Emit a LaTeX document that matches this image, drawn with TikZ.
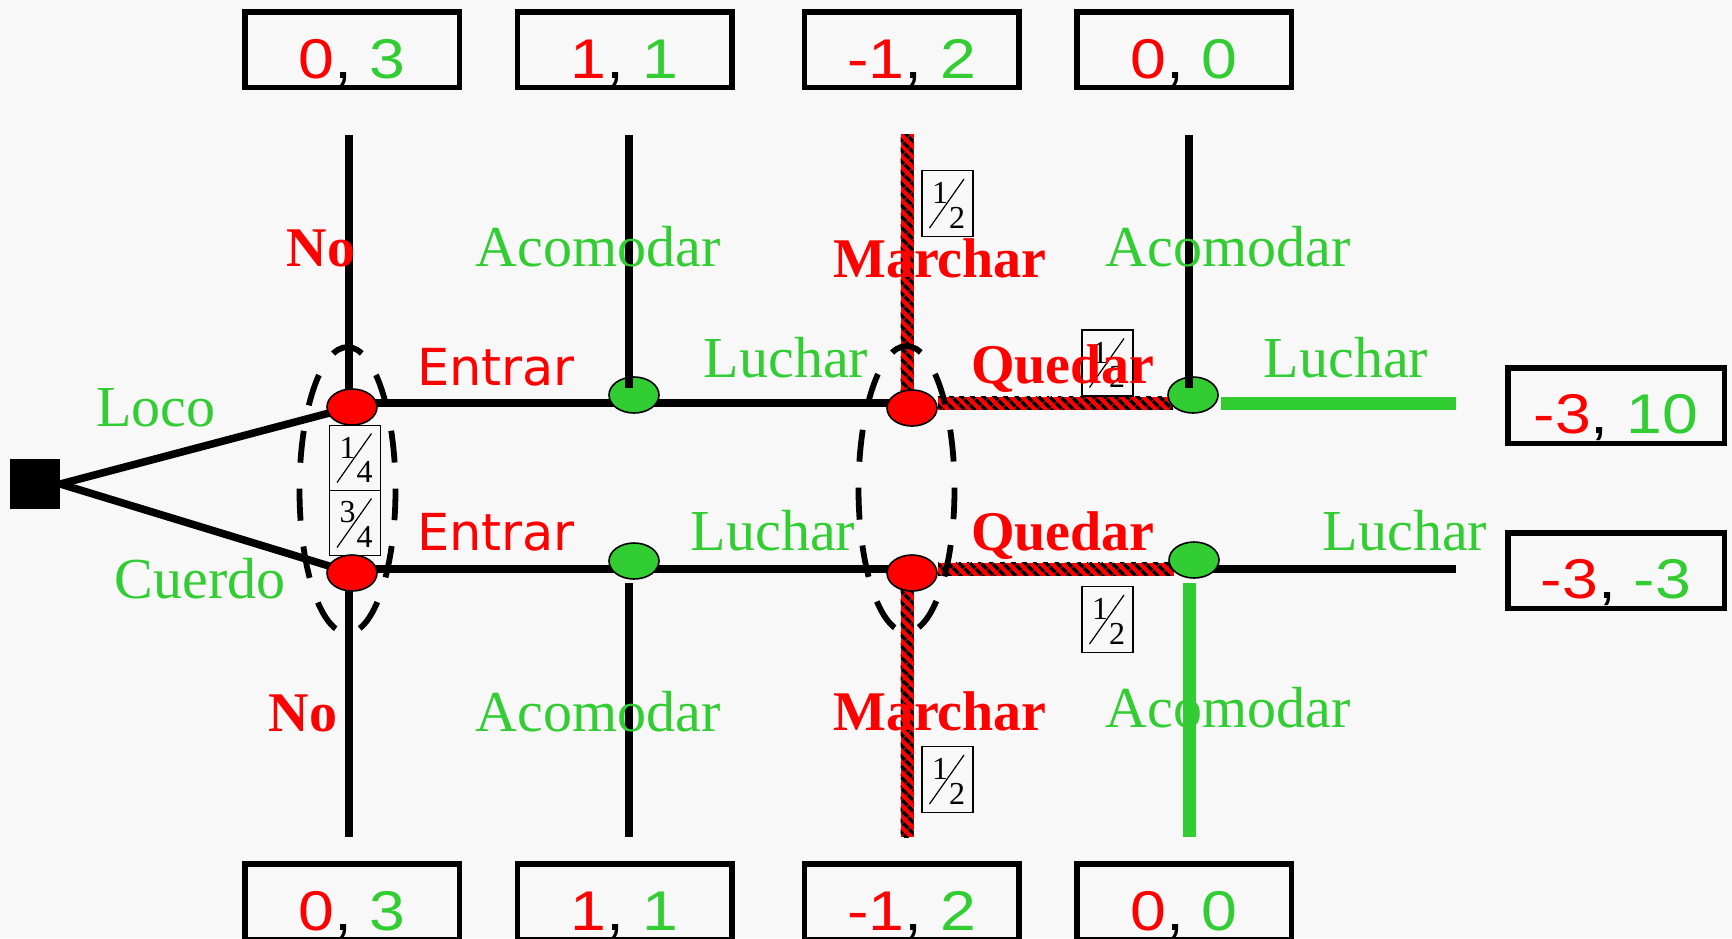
\documentclass[tikz,border=0pt]{standalone}
\usepackage{fontspec}
\setmainfont{Liberation Serif}
\newfontfamily\payfont{Liberation Sans}
\newfontfamily\entfont{DejaVu Sans}
\usetikzlibrary{shapes.geometric,patterns.meta,calc}
\definecolor{lg}{RGB}{50,205,50}
\definecolor{bgc}{RGB}{248,248,248}
\definecolor{rd}{RGB}{255,0,0}
\pgfdeclarelayer{canvas}
\pgfdeclarelayer{back}
\pgfsetlayers{canvas,back,main}
\tikzset{
 blk/.style={line width=3.8pt, black},
 gline/.style={line width=6.5pt, lg},
 hatched/.style={preaction={fill=rd}, pattern={Lines[angle=-45,distance=4pt,line width=1.9pt]}, pattern color=black},
 rnode/.style={ellipse, fill=rd, draw=black, line width=0.8pt, minimum width=25pt, minimum height=18pt, inner sep=0pt},
 gnode/.style={rnode, fill=lg},
 chance/.style={fill=black, minimum size=25pt, inner sep=0pt},
 infoset/.style={ellipse, draw=black, line width=2.9pt, dash pattern=on 16pt off 13pt, dash phase=15.25pt, minimum width=48pt, minimum height=143pt, inner sep=0pt},
 paybox/.style={draw=black, line width=2.75pt, minimum width=107.25pt, minimum height=37.75pt, inner sep=0pt},
 gl/.style={text=lg, font=\fontsize{29}{30}\selectfont, anchor=base, inner sep=0pt},
 rl/.style={text=rd, font=\fontsize{28}{30}\selectfont\bfseries, anchor=base, inner sep=0pt},
 el/.style={text=rd, font=\entfont\fontsize{25.5}{28}\selectfont, anchor=base, inner sep=0pt},
 paytext/.style={font=\payfont\fontsize{28}{30}\selectfont, anchor=base, inner sep=0pt},
 fracbox/.style={draw=black, line width=0.6pt, minimum width=25.5pt, minimum height=33pt, inner sep=0pt},
 fracdigit/.style={font=\fontsize{16}{16}\selectfont, inner sep=0pt},
}
\newcommand\payoff[2]{\scalebox{1.15}[1]{\textcolor{rd}{#1}\textcolor{black}{,} \textcolor{lg}{#2}}}
\newcommand\fracbx[6]{%
 \node[fracbox, minimum height=#6] (#1) at (#2,#3) {};
 \node[fracdigit] (#1n) at ($(#1.center)+(-7.5,-10.5)$) {#4};
 \node[fracdigit] (#1d) at ($(#1.center)+(9.5,14)$) {#5};
 \draw[line width=0.6pt] ($(#1.center)+(-18,24.5)$) -- ($(#1.center)+(16.5,-24.5)$);
}
\begin{document}
\begin{tikzpicture}[x=0.5pt,y=-0.5pt]
\begin{pgfonlayer}{canvas}
 \fill[bgc] (0,0) rectangle (1732,938);
\end{pgfonlayer}
\useasboundingbox (0,0) rectangle (1732,938);

% reference heights
\coordinate (yu) at (0,403);
\coordinate (yl) at (0,569);
\coordinate (ytop) at (0,388);
\coordinate (ybot) at (0,583);
\coordinate (T1) at (349,135);
\coordinate (T2) at (629,135);
\coordinate (T3) at (907,135);
\coordinate (T4) at (1189,135);
\coordinate (B1) at (349,837);
\coordinate (B2) at (629,837);
\coordinate (B3) at (907,837);
\coordinate (B4) at (1189,837);
\coordinate (Uend) at (1456,403);
\coordinate (Lend) at (1456,569);

% decision nodes
\node[chance] (sq) at (35,484) {};
\node[rnode] (r1u) at (352,407) {};
\node[gnode] (g1u) at (634,395) {};
\node[rnode] (r2u) at (912,408) {};
\node[gnode] (g2u) at (1193,395) {};
\node[rnode] (r1l) at (352,573) {};
\node[gnode] (g1l) at (634,561) {};
\node[rnode] (r2l) at (912,573) {};
\node[gnode] (g2l) at (1194,560) {};

\begin{pgfonlayer}{back}
 \draw[blk] (sq.east) -- (r1u.center);
 \draw[blk] (sq.east) -- (r1l.center);
 % upper rail
 \draw[blk] (r1u |- yu) -- (r2u |- yu);
 \path[hatched] ($(r2u |- yu)+(26,-6.5)$) rectangle ($(g2u |- yu)+(-20,6.5)$);
 \draw[gline] ($(g2u |- yu)+(28,0)$) -- (Uend);
 % lower rail
 \draw[blk] (r1l |- yl) -- (r2l |- yl);
 \path[hatched] ($(r2l |- yl)+(26,-6.5)$) rectangle ($(g2l |- yl)+(-20,6.5)$);
 \draw[blk] (g2l |- yl) -- (Lend);
 % verticals into red nodes
 \draw[blk] (T1) -- (T1 |- r1u);
 \path[hatched] ($(T3)+(-6.5,-1)$) rectangle ($(r2u.center)+(1.5,0)$);
 \draw[blk] (B1 |- r1l) -- (B1);
 \path[hatched] ($(r2l.center)+(-11.5,0)$) rectangle ($(B3)+(6.5,0)$);
\end{pgfonlayer}

% verticals at green nodes
\draw[blk] (T2) -- (T2 |- ytop);
\draw[blk] (T4) -- (T4 |- ytop);
\draw[blk] (B2 |- ybot) -- (B2);
\draw[gline] (B4 |- ybot) -- (B4);

% information sets
\node[infoset] (e1) at (347.5,490) {};
\node[infoset] (e2) at (906.5,489) {};

% probabilities
\fracbx{f1}{355}{458}{1}{4}{32.5pt}
\fracbx{f2}{355}{523}{3}{4}{32.5pt}
\fracbx{f3}{947.5}{203.5}{1}{2}{33pt}
\fracbx{f4}{1107.5}{363}{1}{2}{33pt}
\fracbx{f5}{1107.5}{619.5}{1}{2}{33pt}
\fracbx{f6}{947.5}{779.5}{1}{2}{33pt}

% action labels
\node[gl] (lLoco) at (156,426) {Loco};
\node[gl] (lCuerdo) at (200,598) {Cuerdo};
\node[gl] (lAc1) at (598,266) {Acomodar};
\node[gl] (lAc2) at (1228,266) {Acomodar};
\node[gl] (lAc3) at (598,731) {Acomodar};
\node[gl] (lAc4) at (1228,727) {Acomodar};
\node[gl] (lLu1) at (786,377) {Luchar};
\node[gl] (lLu2) at (1346,377) {Luchar};
\node[gl] (lLu3) at (773,550) {Luchar};
\node[gl] (lLu4) at (1405,550) {Luchar};
\node[rl] (lNo1) at (321,266) {No};
\node[rl] (lNo2) at (303,731) {No};
\node[rl] (lMa1) at (940,277) {Marchar};
\node[rl] (lMa2) at (940,730) {Marchar};
\node[rl] (lQu1) at (1063,383) {Quedar};
\node[rl] (lQu2) at (1063,550) {Quedar};
\node[el] (lEn1) at (496,385) {Entrar};
\node[el] (lEn2) at (496,550) {Entrar};

% payoff boxes
\node[paybox] (p1) at (352,49.5) {};
\node[paybox] (p2) at (624.5,49.5) {};
\node[paybox] (p3) at (911.5,49.5) {};
\node[paybox] (p4) at (1184,49.5) {};
\node[paybox] (q1) at (352,901.5) {};
\node[paybox] (q2) at (624.5,901.5) {};
\node[paybox] (q3) at (911.5,901.5) {};
\node[paybox] (q4) at (1184,901.5) {};
\node[paybox, minimum width=108.25pt] (s1) at (1616,405.5) {};
\node[paybox, minimum width=108.25pt] (s2) at (1616,570.5) {};

\node[paytext] (tp1) at (352,78) {\payoff{0}{3}};
\node[paytext] (tp2) at (624.5,78) {\payoff{1}{1}};
\node[paytext] (tp3) at (911.5,78) {\payoff{-1}{2}};
\node[paytext] (tp4) at (1184,78) {\payoff{0}{0}};
\node[paytext] (tq1) at (352,930) {\payoff{0}{3}};
\node[paytext] (tq2) at (624.5,930) {\payoff{1}{1}};
\node[paytext] (tq3) at (911.5,930) {\payoff{-1}{2}};
\node[paytext] (tq4) at (1184,930) {\payoff{0}{0}};
\node[paytext] (ts1) at (1616,433) {\payoff{-3}{10}};
\node[paytext] (ts2) at (1616,598) {\payoff{-3}{-3}};
\end{tikzpicture}
\end{document}
